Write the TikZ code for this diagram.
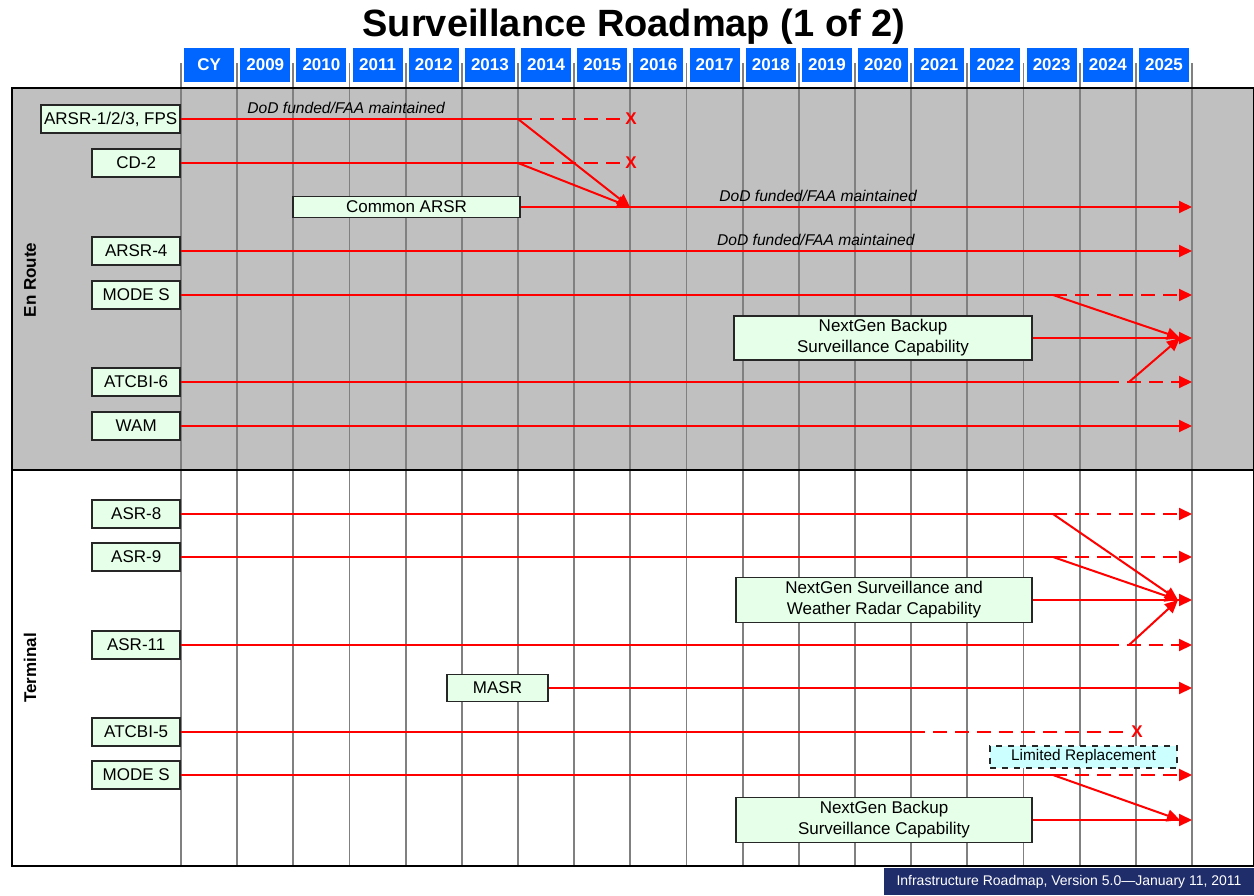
\documentclass[tikz,border=0pt]{standalone}
\usepackage{fontspec}
\setmainfont{Liberation Sans}
\usetikzlibrary{arrows.meta}

\definecolor{bandgray}{HTML}{C0C0C0}
\definecolor{boxgreen}{HTML}{E6FFE9}
\definecolor{yearblue}{HTML}{0066FF}
\definecolor{footnavy}{HTML}{1F2D6B}
\definecolor{limcyan}{HTML}{CCFFFF}
\definecolor{gridgray}{HTML}{808080}

\tikzset{
  sysbox/.style={draw=black!85, fill=boxgreen, line width=0.8pt, inner sep=0pt, align=center,
    font=\fontsize{8.5}{10.5}\selectfont, minimum width=44pt, minimum height=14pt},
  yearbox/.style={fill=yearblue, text=white, inner sep=0pt, font=\bfseries\fontsize{8.5}{10}\selectfont,
    minimum width=25pt, minimum height=17pt},
  redline/.style={red, line width=1pt},
  redarrow/.style={redline, -{Triangle[length=6.5pt,width=6pt]}},
  reddash/.style={redline, dash pattern=on 7pt off 4pt},
  dasharrow/.style={reddash, -{Triangle[length=6.5pt,width=6pt]}},
  note/.style={text=black, font=\itshape\fontsize{7.8}{9}\selectfont, inner sep=2pt},
  endx/.style={text=red, inner sep=0pt, font=\bfseries\fontsize{8.5}{9}\selectfont},
  gridline/.style={gridgray, line width=0.9pt},
  sidelabel/.style={rotate=90, font=\bfseries\fontsize{8.5}{10}\selectfont}
}

\begin{document}
\begin{tikzpicture}[x=0.5pt, y=-0.5pt]
    \useasboundingbox (0,0) rectangle (1254,895);
    \fill[bandgray] (12,88) rectangle (1254,470); % en route band
    \node[font=\bfseries\fontsize{19}{22}\selectfont] (title) at (634,27) {Surveillance Roadmap (1 of 2)};
    \foreach \yr [count=\i from 0] in {CY,2009,2010,2011,2012,2013,2014,2015,2016,2017,2018,2019,2020,2021,2022,2023,2024,2025}
      \node[yearbox] (yr\i) at ({209.1+56.17*\i},65) {\yr}; % year headers
    \foreach \i in {0,...,18}
      \draw[gridline] ({181+56.17*\i},63) -- ({181+56.17*\i},866); % year columns
    \draw[line width=1.2pt] (12,88) rectangle (1254,866); % frame
    \draw[line width=1.2pt] (12,470) -- (1254,470); % en route / terminal split
    \node[sidelabel] (enroute) at (30,280) {En Route};
    \node[sidelabel] (terminal) at (30,668) {Terminal};
    \node[fill=footnavy, text=white, inner sep=0pt, font=\fontsize{7}{8}\selectfont,
      minimum width=185pt, minimum height=13.5pt] (footer) at (1069,881.5) {Infrastructure Roadmap, Version 5.0---January 11, 2011};

    % en route systems
    \node[sysbox, anchor=east, minimum width=69.5pt] (arsrfps) at (181,119) {ARSR-1/2/3, FPS};
    \node[sysbox, anchor=east] (cdtwo) at (181,163) {CD-2};
    \node[sysbox, minimum width=113.5pt, minimum height=10.5pt] (commonarsr) at (406.5,207) {Common ARSR};
    \node[sysbox, anchor=east] (arsrfour) at (181,251) {ARSR-4};
    \node[sysbox, anchor=east] (modesen) at (181,295) {MODE S};
    \node[sysbox, minimum width=149pt, minimum height=22pt] (backupen) at (883,338) {NextGen Backup\\Surveillance Capability};
    \node[sysbox, anchor=east] (atcbisix) at (181,382) {ATCBI-6};
    \node[sysbox, anchor=east] (wam) at (181,426) {WAM};

    \coordinate (fpssplit) at (518,119);
    \coordinate (cdsplit) at (518,163);
    \coordinate (commonhit) at (630,207);
    \coordinate (commonend) at (1192,207);
    \coordinate (arsrfourend) at (1192,251);
    \coordinate (modesensplit) at (1053,295);
    \coordinate (modesenend) at (1192,295);
    \coordinate (backupenhit) at (1180,338);
    \coordinate (backupenend) at (1192,338);
    \coordinate (atcbisixdash) at (1105,382);
    \coordinate (atcbisixfork) at (1129,382);
    \coordinate (atcbisixend) at (1192,382);
    \coordinate (wamend) at (1192,426);
    \node[endx] (fpsx) at (631,119) {X};
    \node[endx] (cdx) at (631,163) {X};

    \draw[redline] (arsrfps) -- node[note, above, pos=0.49] (dodfps) {DoD funded/FAA maintained} (fpssplit);
    \draw[reddash] (fpssplit) -- (fpsx);
    \draw[redarrow] (fpssplit) -- (commonhit);
    \draw[redline] (cdtwo) -- (cdsplit);
    \draw[reddash] (cdsplit) -- (cdx);
    \draw[redarrow] (cdsplit) -- (commonhit);
    \draw[redarrow] (commonarsr) -- node[note, above, pos=0.443] (dodcommon) {DoD funded/FAA maintained} (commonend);
    \draw[redarrow] (arsrfour) -- node[note, above, pos=0.628] (dodfour) {DoD funded/FAA maintained} (arsrfourend);
    \draw[redline] (modesen) -- (modesensplit);
    \draw[dasharrow] (modesensplit) -- (modesenend);
    \draw[redarrow] (modesensplit) -- (backupenhit);
    \draw[redarrow] (backupen) -- (backupenend);
    \draw[redline] (atcbisix) -- (atcbisixdash);
    \draw[dasharrow] (atcbisixdash) -- (atcbisixend);
    \draw[redarrow] (atcbisixfork) -- (backupenhit);
    \draw[redarrow] (wam) -- (wamend);

    % terminal systems
    \node[sysbox, anchor=east] (asreight) at (181,514) {ASR-8};
    \node[sysbox, anchor=east] (asrnine) at (181,557) {ASR-9};
    \node[sysbox, minimum width=148pt, minimum height=22.5pt] (weather) at (884,600) {NextGen Surveillance and\\Weather Radar Capability};
    \node[sysbox, anchor=east] (asreleven) at (181,645) {ASR-11};
    \node[sysbox, minimum width=50.5pt, minimum height=13.5pt] (masr) at (497.5,688) {MASR};
    \node[sysbox, anchor=east] (atcbifive) at (181,732) {ATCBI-5};
    \node[sysbox, dashed, fill=limcyan, minimum width=93.5pt, minimum height=11pt,
      font=\fontsize{7.7}{9}\selectfont] (limrep) at (1083.5,757) {Limited Replacement};
    \node[sysbox, anchor=east] (modester) at (181,775) {MODE S};
    \node[sysbox, minimum width=148pt, minimum height=22.5pt] (backupter) at (884,820) {NextGen Backup\\Surveillance Capability};

    \coordinate (asreightsplit) at (1053,514);
    \coordinate (asreightend) at (1192,514);
    \coordinate (asrninesplit) at (1053,557);
    \coordinate (asrnineend) at (1192,557);
    \coordinate (weatherhit) at (1178,600);
    \coordinate (weatherend) at (1192,600);
    \coordinate (asrelevendash) at (1105,645);
    \coordinate (asrelevenfork) at (1129,645);
    \coordinate (asrelevenend) at (1192,645);
    \coordinate (masrend) at (1192,688);
    \coordinate (atcbifivedash) at (911,732);
    \coordinate (modestersplit) at (1053,775);
    \coordinate (modesterend) at (1192,775);
    \coordinate (backupterhit) at (1180,820);
    \coordinate (backupterend) at (1192,820);
    \node[endx] (atcbifivex) at (1137,732) {X};

    \draw[redline] (asreight) -- (asreightsplit);
    \draw[dasharrow] (asreightsplit) -- (asreightend);
    \draw[redarrow] (asreightsplit) -- (weatherhit);
    \draw[redline] (asrnine) -- (asrninesplit);
    \draw[dasharrow] (asrninesplit) -- (asrnineend);
    \draw[redarrow] (asrninesplit) -- (weatherhit);
    \draw[redarrow] (weather) -- (weatherend);
    \draw[redline] (asreleven) -- (asrelevendash);
    \draw[dasharrow] (asrelevendash) -- (asrelevenend);
    \draw[redarrow] (asrelevenfork) -- (weatherhit);
    \draw[redarrow] (masr) -- (masrend);
    \draw[redline] (atcbifive) -- (atcbifivedash);
    \draw[reddash] (atcbifivedash) -- (atcbifivex);
    \draw[redline] (modester) -- (modestersplit);
    \draw[dasharrow] (modestersplit) -- (modesterend);
    \draw[redarrow] (modestersplit) -- (backupterhit);
    \draw[redarrow] (backupter) -- (backupterend);
\end{tikzpicture}
\end{document}
